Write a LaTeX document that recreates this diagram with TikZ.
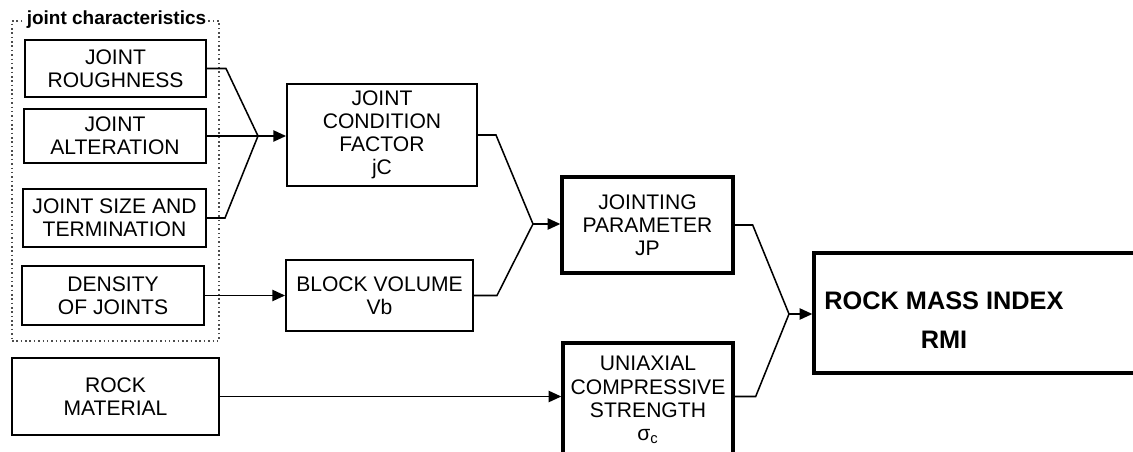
\documentclass[tikz,border=0pt]{standalone}
\usepackage{fontspec}
\setmainfont{Liberation Sans}
\usetikzlibrary{arrows.meta}
\newcommand\pxl{0.025cm}

\begin{document}
\begin{tikzpicture}[x=\pxl,y=-\pxl,
  box/.style={draw,line width=1.4pt,align=center,inner sep=0pt,font=\fontsize{15}{16.5}\selectfont},
  bbox/.style={box,line width=2.4pt},
  frame/.style={draw=black!70,dotted,line width=1.1pt},
  e/.style={line width=1.1pt},
  a/.style={e,-{Triangle[length=9pt,width=8pt]}},
  lab/.style={font=\bfseries\fontsize{13.5}{14}\selectfont,fill=white,inner sep=1pt},
  big/.style={align=center,font=\bfseries\fontsize{18}{27.5}\selectfont}]
  \useasboundingbox (0,0) rectangle (1133,452);
  % joint characteristics
  \node[frame,minimum width=207*\pxl,minimum height=320*\pxl] (jchar) at (115.5,181) {};
  \node[lab] (jcharlab) at (116.5,20) {joint characteristics};
  \node[box,minimum width=181*\pxl,minimum height=57*\pxl] (rough) at (115.5,68.5) {JOINT\\ROUGHNESS};
  \node[box,minimum width=182*\pxl,minimum height=54*\pxl] (alter) at (115,136) {JOINT\\ALTERATION};
  \node[box,minimum width=183*\pxl,minimum height=58*\pxl] (term) at (114.5,218) {JOINT SIZE AND\\TERMINATION};
  \node[box,minimum width=182*\pxl,minimum height=59*\pxl] (dens) at (113,295.5) {DENSITY\\OF JOINTS};
  \node[box,minimum width=207*\pxl,minimum height=77*\pxl] (rock) at (115.5,396.5) {ROCK\\MATERIAL};
  % derived factors
  \node[box,minimum width=190*\pxl,minimum height=102*\pxl] (jc) at (382,135) {JOINT\\CONDITION\\FACTOR\\jC};
  \node[box,minimum width=187*\pxl,minimum height=71*\pxl] (vb) at (379.5,295.5) {BLOCK VOLUME\\Vb};
  \node[bbox,minimum width=171*\pxl,minimum height=96*\pxl] (jp) at (647.5,225) {JOINTING\\PARAMETER\\JP};
  \node[bbox,minimum width=170*\pxl,minimum height=114*\pxl] (ucs) at (648,400) {UNIAXIAL\\COMPRESSIVE\\STRENGTH\\σ\textsubscript{c}};
  % result
  \node[bbox,minimum width=331*\pxl,minimum height=120*\pxl] (rmi) at (979.5,313) {};
  \node[big] (rmilab) at (944,320) {ROCK MASS INDEX\\RMI};
  % junctions
  \coordinate (j1) at (258,136); \coordinate (j2) at (533,224); \coordinate (j3) at (789,314);
  \draw[e] (rough.east) -- ++(19,0) -- (j1);
  \draw[e] (term.east) -- ++(18,0) -- (j1);
  \draw[a] (alter.east) -- (alter.east -| jc.west);
  \draw[a] (dens.east) -- (dens.east -| vb.west);
  \draw[e] (jc.east) -- ++(18,0) -- (j2);
  \draw[e] (vb.east) -- ++(23,0) -- (j2);
  \draw[a] (j2) -- (j2 -| jp.west);
  \draw[a] (rock.east) -- (rock.east -| ucs.west);
  \draw[e] (jp.east) -- ++(18,0) -- (j3);
  \draw[e] (ucs.east |- rock.east) -- ++(21,0) -- (j3);
  \draw[a] (j3) -- (j3 -| rmi.west);
\end{tikzpicture}
\end{document}
